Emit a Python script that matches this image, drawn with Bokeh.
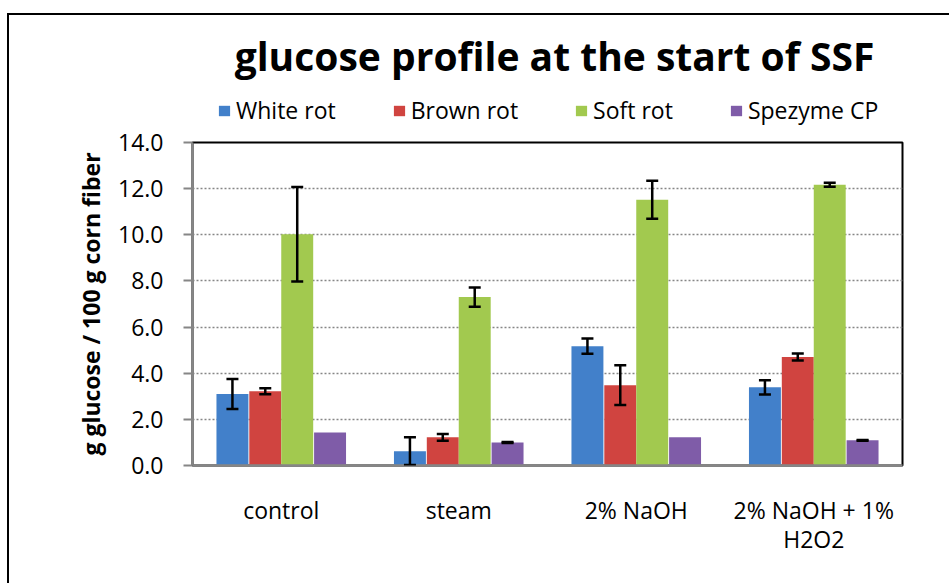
from bokeh.plotting import figure
from bokeh.layouts import column
from bokeh.models import (ColumnDataSource, FactorRange, Range1d, Whisker, TeeHead, Legend, LegendItem,
                          FixedTicker, NumeralTickFormatter, Label)
from bokeh.transform import dodge
from bokeh.embed import file_html
from bokeh.resources import INLINE

categories = ["control", "steam", "2% NaOH", "2% NaOH + 1%\nH2O2"]
series_names = ["White rot", "Brown rot", "Soft rot", "Spezyme CP"]
white_rot = [3.10, 0.62, 5.17, 3.39]
white_err = [0.65, 0.60, 0.33, 0.31]
brown_rot = [3.22, 1.22, 3.48, 4.70]
brown_err = [0.13, 0.15, 0.86, 0.15]
soft_rot = [10.02, 7.30, 11.52, 12.17]
soft_err = [2.05, 0.42, 0.82, 0.09]
spezyme = [1.43, 1.00, 1.22, 1.09]
spezyme_err = [0.0, 0.02, 0.0, 0.02]
y_ticks = [0, 2, 4, 6, 8, 10, 12, 14]
grid_ticks = [2, 4, 6, 8, 10, 12]
title_text = "glucose profile at the start of SSF"

colors = ["#4280CA", "#D04440", "#A2C94F", "#7F5CA8"]
offsets = [-0.275, -0.09, 0.09, 0.275]
FONT = "Open Sans"
W = 940
BL, BR = 183, 47          # shared left/right borders so both frames line up
HEAD_H = 111
FRAME_W = W - BL - BR

values = [white_rot, brown_rot, soft_rot, spezyme]
errors = [white_err, brown_err, soft_err, spezyme_err]

# ---- header figure: title + legend ----
head = figure(width=W, height=HEAD_H, x_range=Range1d(0, FRAME_W), y_range=Range1d(0, HEAD_H),
              output_backend="svg", toolbar_location=None, x_axis_type=None, y_axis_type=None,
              min_border_left=BL, min_border_right=BR, min_border_top=0, min_border_bottom=0)
head.title = None
head.outline_line_color = None
head.grid.grid_line_color = None
head.background_fill_color = "white"
head.border_fill_color = "white"

head.add_layout(Label(x=362, y=71, text=title_text, text_font=FONT, text_font_style="bold",
                      text_font_size="39px", text_align="center", text_baseline="alphabetic",
                      text_color="black"))

swatches = []
for name, vals, col in zip(series_names, values, colors):
    r = head.vbar(x=list(range(len(vals))), top=vals, width=0.5, fill_color=col, line_color=None,
                  visible=False)
    swatches.append(LegendItem(label=name, renderers=[r]))
legend = Legend(items=swatches, orientation="horizontal", location=(25, 0),
                glyph_width=14, glyph_height=13, label_height=13, label_standoff=5, spacing=56,
                padding=0, margin=0, border_line_color=None, background_fill_alpha=0,
                inactive_fill_alpha=0,
                label_text_font=FONT, label_text_font_size="23px", label_text_color="black")
head.add_layout(legend, "center")

# ---- main chart ----
p = figure(width=W, height=457, x_range=FactorRange(factors=categories), y_range=Range1d(0, 14),
           output_backend="svg", toolbar_location=None,
           min_border_left=BL, min_border_right=BR, min_border_top=16, min_border_bottom=118)
p.title = None
p.background_fill_color = "white"
p.border_fill_color = "white"
p.outline_line_color = "black"
p.outline_line_width = 2

for name, vals, errs, col, off in zip(series_names, values, errors, colors, offsets):
    src = ColumnDataSource(dict(cat=categories, val=vals))
    p.vbar(x=dodge("cat", off, range=p.x_range), top="val", width=0.18, source=src,
           fill_color=col, line_color=None)
    keep = [i for i, e in enumerate(errs) if e > 0]
    esrc = ColumnDataSource(dict(cat=[categories[i] for i in keep],
                                 upper=[vals[i] + errs[i] for i in keep],
                                 lower=[vals[i] - errs[i] for i in keep]))
    w = Whisker(source=esrc, base=dodge("cat", off, range=p.x_range), upper="upper", lower="lower",
                level="annotation", line_color="black", line_width=2.5,
                upper_head=TeeHead(size=12, line_color="black", line_width=2.5),
                lower_head=TeeHead(size=12, line_color="black", line_width=2.5))
    p.add_layout(w)

p.yaxis.ticker = FixedTicker(ticks=y_ticks)
p.yaxis.formatter = NumeralTickFormatter(format="0.0")
p.yaxis.minor_tick_line_color = None
p.yaxis.major_tick_out = 9
p.yaxis.major_tick_in = 0
p.yaxis.major_tick_line_color = "#868686"
p.yaxis.major_tick_line_width = 2
p.yaxis.axis_line_color = "#868686"
p.yaxis.axis_line_width = 2
p.yaxis.major_label_standoff = 20
p.yaxis.major_label_text_font = FONT
p.yaxis.major_label_text_font_size = "23px"
p.yaxis.major_label_text_color = "black"
p.yaxis.axis_label = "g glucose / 100 g corn fiber"
p.yaxis.axis_label_text_font = FONT
p.yaxis.axis_label_text_font_style = "bold"
p.yaxis.axis_label_text_font_size = "23px"
p.yaxis.axis_label_text_color = "black"
p.yaxis.axis_label_standoff = 8

p.xaxis.major_tick_line_color = None
p.xaxis.minor_tick_line_color = None
p.xaxis.axis_line_color = "#868686"
p.xaxis.axis_line_width = 2.5
p.xaxis.major_label_standoff = 22
p.xaxis.major_label_text_font = FONT
p.xaxis.major_label_text_font_size = "23px"
p.xaxis.major_label_text_line_height = 0.93
p.xaxis.major_label_text_color = "black"

p.xgrid.grid_line_color = None
p.ygrid.ticker = FixedTicker(ticks=grid_ticks)
p.ygrid.grid_line_color = "#868686"
p.ygrid.grid_line_dash = "2 2"
p.ygrid.grid_line_width = 1.5

layout = column(head, p, spacing=0)
layout.styles = {"margin-left": "7px", "margin-top": "13px",
                 "border-left": "2px solid black", "border-top": "2px solid black"}

open("out.html", "w").write(file_html(layout, INLINE))
